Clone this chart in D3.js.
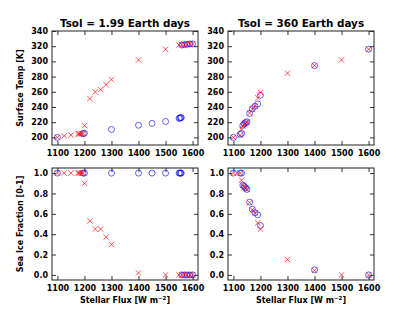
<!DOCTYPE html>
<meta charset="utf-8">
<script src="https://d3js.org/d3.v7.min.js"></script>
<style>
  body { margin: 0; background: #fff; }
  text { font-family: "DejaVu Sans", sans-serif; font-weight: bold; }
</style>
<div id="my_dataviz"></div>
<script>

// Tsol = 1.99 Earth days
var fluxShortX = [1100,1125,1150,1175,1180,1185,1190,1195,1200,1220,1240,1260,1280,1300,1400,1500,1550,1560,1570,1580,1590,1600];
var tempShortX = [200,202,203,204.5,204.5,204.5,205,205,215.5,251,260,263,269.5,276,302,316,321.5,322,322.5,322.5,323,323];
var iceShortX  = [1,1,1,1,1,1,1,1,0.9,0.53,0.45,0.45,0.37,0.30,0.02,0,0,0,0,0,0,0];

var fluxShortO = [1100,1195,1200,1300,1400,1450,1500,1550,1553,1556,1558,1560,1570,1580,1590,1600];
var tempShortO = [200,205,205.5,210.5,216,218.5,221,225,225.5,226,226,321.5,322,322.5,323,323];
var iceShortO  = [1,1,1,1,1,1,1,1,1,1,1,0,0,0,0,0];

// Tsol = 360 Earth days
var fluxLongX = [1100,1125,1130,1135,1140,1145,1150,1160,1170,1180,1190,1200,1300,1400,1500,1600];
var tempLongX = [200,203,211,215,217,219,220,232,237,241,252,259,284.5,294.5,302,316];
var iceLongX  = [1,1,0.93,0.88,0.86,0.85,0.84,0.71,0.64,0.61,0.51,0.45,0.15,0.045,0,0];

var fluxLongO = [1100,1125,1130,1135,1140,1145,1150,1160,1170,1180,1190,1200,1400,1600];
var tempLongO = [200,204,205,216,218,219.5,220.5,231.5,237.5,241,244,255.5,294.5,316];
var iceLongO  = [1,1,1,0.88,0.87,0.855,0.84,0.715,0.645,0.61,0.59,0.485,0.05,0];

var fluxTicks = [1100,1200,1300,1400,1500,1600];
var tempTicks = [200,220,240,260,280,300,320,340];
var iceTicks  = [0,0.2,0.4,0.6,0.8,1.0];
var titles = ["Tsol = 1.99 Earth days", "Tsol = 360 Earth days"];

var svg = d3.select("#my_dataviz")
  .append("svg")
    .attr("width", 415)
    .attr("height", 312);

var colLeft = [52, 228], panelW = 146;
var rowTop = [31, 168], panelH = [114, 112];

var x = [0,1].map(function(c) {
  return d3.scaleLinear().domain([1080, 1620]).range([colLeft[c], colLeft[c] + panelW]);
});
var yTemp = d3.scaleLinear().domain([190, 340]).range([rowTop[0] + panelH[0], rowTop[0]]);
var yIce = d3.scaleLinear().domain([-0.05, 1.05]).range([rowTop[1] + panelH[1], rowTop[1]]);

function panel(c, y, ticks, fmt, xsF, xsV, osF, osV) {
  var sx = x[c];
  var g = svg.append("g");
  var top = y.range()[1], bot = y.range()[0];

  // ticks inside, on all four sides
  g.append("g").attr("transform", "translate(0," + bot + ")")
    .call(d3.axisBottom(sx).tickValues(fluxTicks).tickFormat(d3.format("d")).tickSizeInner(-4).tickSizeOuter(0).tickPadding(5));
  g.append("g").attr("transform", "translate(0," + top + ")")
    .call(d3.axisTop(sx).tickValues(fluxTicks).tickFormat("").tickSizeInner(-4).tickSizeOuter(0));
  g.append("g").attr("transform", "translate(" + sx.range()[0] + ",0)")
    .call(d3.axisLeft(y).tickValues(ticks).tickFormat(fmt).tickSizeInner(-4).tickSizeOuter(0).tickPadding(4));
  g.append("g").attr("transform", "translate(" + sx.range()[1] + ",0)")
    .call(d3.axisRight(y).tickValues(ticks).tickFormat("").tickSizeInner(-4).tickSizeOuter(0));
  g.selectAll(".domain").remove();
  g.selectAll(".tick line").attr("stroke", "#333");
  g.selectAll(".tick text").style("font-size", "8px").style("font-weight", "bold").attr("fill", "#000");

  g.append("rect")
    .attr("x", sx.range()[0]).attr("y", top)
    .attr("width", sx.range()[1] - sx.range()[0]).attr("height", bot - top)
    .attr("fill", "none").attr("stroke", "#222").attr("stroke-width", 1);

  var marks = g.append("g");

  marks.selectAll("circle")
    .data(osF.map(function(f, i) { return [f, osV[i]]; }))
    .enter()
    .append("circle")
      .attr("cx", function(d) { return sx(d[0]); })
      .attr("cy", function(d) { return y(d[1]); })
      .attr("r", 3)
      .attr("fill", "none")
      .attr("stroke", "blue")
      .attr("stroke-opacity", 0.6)
      .attr("stroke-width", 1);

  marks.selectAll("path.xm")
    .data(xsF.map(function(f, i) { return [f, xsV[i]]; }))
    .enter()
    .append("path")
      .attr("class", "xm")
      .attr("d", function(d) {
        var cx = sx(d[0]), cy = y(d[1]), s = 2.7;
        return "M" + (cx - s) + "," + (cy - s) + "L" + (cx + s) + "," + (cy + s) +
               "M" + (cx - s) + "," + (cy + s) + "L" + (cx + s) + "," + (cy - s);
      })
      .attr("stroke", "red")
      .attr("stroke-opacity", 0.65)
      .attr("stroke-width", 1);
}

panel(0, yTemp, tempTicks, d3.format("d"), fluxShortX, tempShortX, fluxShortO, tempShortO);
panel(1, yTemp, tempTicks, d3.format("d"), fluxLongX, tempLongX, fluxLongO, tempLongO);
panel(0, yIce, iceTicks, d3.format(".1f"), fluxShortX, iceShortX, fluxShortO, iceShortO);
panel(1, yIce, iceTicks, d3.format(".1f"), fluxLongX, iceLongX, fluxLongO, iceLongO);

// titles
titles.forEach(function(t, c) {
  svg.append("text")
    .attr("x", colLeft[c] + panelW / 2)
    .attr("y", 27)
    .attr("text-anchor", "middle")
    .style("font-size", "10.4px")
    .text(t);
});

// y labels
svg.append("text")
  .attr("text-anchor", "middle")
  .attr("transform", "translate(23," + (rowTop[0] + panelH[0] / 2) + ")rotate(-90)")
  .style("font-size", "8px")
  .text("Surface Temp [K]");
svg.append("text")
  .attr("text-anchor", "middle")
  .attr("transform", "translate(23," + (rowTop[1] + panelH[1] / 2) + ")rotate(-90)")
  .style("font-size", "8px")
  .text("Sea Ice Fraction [0-1]");

// x labels
[0,1].forEach(function(c) {
  var t = svg.append("text")
    .attr("x", colLeft[c] + panelW / 2)
    .attr("y", 303)
    .attr("text-anchor", "middle")
    .style("font-size", "8px");
  t.append("tspan").text("Stellar Flux [W m");
  t.append("tspan").attr("dy", -3).style("font-size", "5.5px").text("\u22122");
  t.append("tspan").attr("dy", 3).text("]");
});

</script>
